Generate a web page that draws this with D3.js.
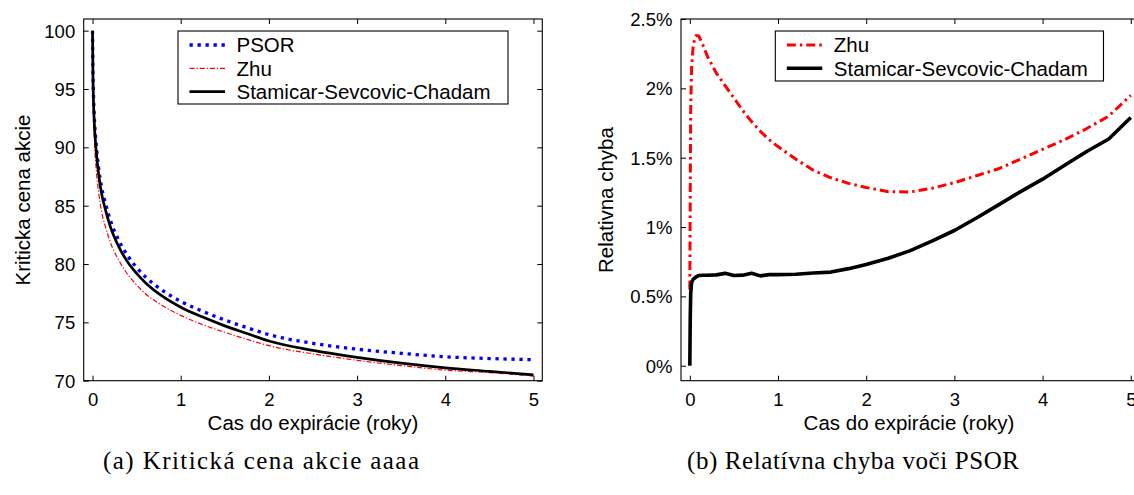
<!DOCTYPE html>
<html>
<head>
<meta charset="utf-8">
<script src="https://cdn.jsdelivr.net/npm/d3@7"></script>
<style>
  body { margin: 0; background: #fff; }
  svg { display: block; }
  text { font-family: "Liberation Sans", Arial, sans-serif; fill: #000; }
</style>
</head>
<body>
<svg width="1134" height="495"></svg>
<script>
// left panel: critical stock price vs time to expiry
var timeYears = [0, 0.005, 0.01, 0.02, 0.04, 0.07, 0.1, 0.15, 0.2, 0.3, 0.4, 0.5, 0.6, 0.8,
  1, 1.25, 1.5, 1.75, 2, 2.5, 3, 3.5, 4, 4.5, 5];
var psorPrice = [100, 96.4, 94.7, 92.7, 90.4, 88.2, 86.7, 85.1, 83.8, 82.0, 80.7, 79.7, 78.9, 77.7,
  76.8, 75.95, 75.2, 74.55, 73.95, 73.2, 72.7, 72.35, 72.05, 71.9, 71.8];
var zhuPrice = [100, 95.2, 93.2, 90.8, 88.3, 86.1, 84.6, 83.1, 81.9, 80.3, 79.1, 78.2, 77.45, 76.4,
  75.6, 74.8, 74.15, 73.55, 73.0, 72.3, 71.75, 71.3, 70.9, 70.7, 70.4];
var sscPrice = [100, 96.1, 94.2, 92.15, 89.85, 87.65, 86.15, 84.55, 83.25, 81.45, 80.15, 79.2, 78.4, 77.2,
  76.3, 75.45, 74.7, 74.05, 73.4, 72.6, 72.0, 71.5, 71.1, 70.8, 70.5];

// right panel: relative error against PSOR (in %)
var errTime = [0, 0.005, 0.01, 0.02, 0.04, 0.07, 0.1, 0.15, 0.2, 0.3, 0.4, 0.5, 0.6, 0.7, 0.8, 0.9,
  1, 1.2, 1.4, 1.6, 1.8, 2, 2.25, 2.5, 2.75, 3, 3.25, 3.5, 3.75, 4, 4.25, 4.5, 4.75, 5];
var zhuError = [0.55, 1.3, 1.85, 2.15, 2.32, 2.38, 2.38, 2.31, 2.23, 2.11, 2.02, 1.93, 1.84, 1.76, 1.69, 1.63,
  1.58, 1.49, 1.41, 1.355, 1.315, 1.285, 1.255, 1.253, 1.28, 1.32, 1.37, 1.42, 1.49, 1.56, 1.63, 1.71, 1.80, 1.95];
var sscError = [0, 0.35, 0.52, 0.6, 0.625, 0.64, 0.65, 0.652, 0.652, 0.655, 0.666, 0.65, 0.653, 0.667, 0.648, 0.657,
  0.657, 0.66, 0.668, 0.675, 0.70, 0.73, 0.775, 0.83, 0.9, 0.975, 1.065, 1.16, 1.255, 1.345, 1.445, 1.545, 1.635, 1.79];

var timeTicks = [0, 1, 2, 3, 4, 5];
var priceTicks = [70, 75, 80, 85, 90, 95, 100];
var errorTicks = [0, 0.5, 1, 1.5, 2, 2.5];

var svg = d3.select('svg');
svg.append('rect').attr('width', 1134).attr('height', 495).attr('fill', '#fff');

function drawFrame(x, y, yTicks, yFormat) {
  var x0 = x.range()[0], x1 = x.range()[1];
  var y0 = y.range()[0], y1 = y.range()[1];
  var g = svg.append('g');

  var bottom = g.append('g').attr('transform', 'translate(0,' + y0 + ')')
    .call(d3.axisBottom(x).tickValues(timeTicks).tickFormat(d3.format('d'))
      .tickSizeInner(-5).tickSizeOuter(0));
  bottom.selectAll('text').attr('y', 25).attr('dy', null).style('font-size', '18.5px');

  var left = g.append('g').attr('transform', 'translate(' + x0 + ',0)')
    .call(d3.axisLeft(y).tickValues(yTicks).tickFormat(yFormat).tickSizeInner(-5).tickSizeOuter(0));
  left.selectAll('text').attr('x', -8.5).attr('dy', null).attr('y', 6.6).style('font-size', '18.5px');

  g.append('g').attr('transform', 'translate(0,' + y1 + ')')
    .call(d3.axisTop(x).tickValues(timeTicks).tickFormat('').tickSizeInner(-5).tickSizeOuter(0));
  g.append('g').attr('transform', 'translate(' + x1 + ',0)')
    .call(d3.axisRight(y).tickValues(yTicks).tickFormat('').tickSizeInner(-5).tickSizeOuter(0));

  g.selectAll('.domain').remove();
  g.selectAll('.tick line').attr('stroke', '#000');

  g.append('rect')
    .attr('x', x0).attr('y', y1)
    .attr('width', x1 - x0).attr('height', y0 - y1)
    .attr('fill', 'none').attr('stroke', '#000').attr('stroke-width', 1.1);
  return g;
}

function drawLegend(box, items) {
  var g = svg.append('g');
  g.append('rect')
    .attr('x', box.x).attr('y', box.y).attr('width', box.w).attr('height', box.h)
    .attr('fill', '#fff').attr('stroke', '#000').attr('stroke-width', 1.1);
  items.forEach(function(d, i) {
    var cy = box.y + 14 + i * 23.3;
    g.append('line')
      .attr('x1', box.x + 11.5).attr('x2', box.x + 47)
      .attr('y1', cy).attr('y2', cy)
      .attr('stroke', d.color).attr('stroke-width', d.width)
      .attr('stroke-dasharray', d.dash);
    g.append('text')
      .attr('x', box.x + 58.5).attr('y', cy + 7.3)
      .style('font-size', '20.5px')
      .text(d.name);
  });
}

// ---- left chart ----
var xL = d3.scaleLinear().domain([-0.1, 5.1]).range([83.7, 542.3]);
var yL = d3.scaleLinear().domain([70, 101]).range([380.7, 19]);
drawFrame(xL, yL, priceTicks, d3.format('d'));

var styleL = [
  { name: 'PSOR', values: psorPrice, color: '#0000ff', width: 3.3, dash: '3.3,4.7' },
  { name: 'Zhu', values: zhuPrice, color: '#ff0000', width: 1.2, dash: '5,2,1.2,2' },
  { name: 'Stamicar-Sevcovic-Chadam', values: sscPrice, color: '#000', width: 2.7, dash: null }
];

var lineL = d3.line()
  .x(function(d) { return xL(d[0]); })
  .y(function(d) { return yL(d[1]); })
  .curve(d3.curveMonotoneX);

styleL.forEach(function(s) {
  svg.append('path')
    .attr('d', lineL(d3.zip(timeYears, s.values)))
    .attr('fill', 'none')
    .attr('stroke', s.color)
    .attr('stroke-width', s.width)
    .attr('stroke-dasharray', s.dash);
});

drawLegend({ x: 178, y: 31, w: 330, h: 73 }, styleL);

svg.append('text')
  .attr('x', 313).attr('y', 430)
  .attr('text-anchor', 'middle').style('font-size', '20.5px')
  .text('Cas do expirácie (roky)');
svg.append('text')
  .attr('transform', 'translate(30.4,200) rotate(-90)')
  .attr('text-anchor', 'middle').style('font-size', '20.5px')
  .text('Kriticka cena akcie');

// ---- right chart ----
var xR = d3.scaleLinear().domain([-0.1, 5.1]).range([681, 1139.6]);
var yR = d3.scaleLinear().domain([-0.108, 2.5]).range([380.7, 19]);
drawFrame(xR, yR, errorTicks, function(d) { return d + '%'; });

var styleR = [
  { name: 'Zhu', values: zhuError, color: '#ff0000', width: 3, dash: '9,4,2.5,4' },
  { name: 'Stamicar-Sevcovic-Chadam', values: sscError, color: '#000', width: 3.6, dash: null }
];

var lineR = d3.line()
  .x(function(d) { return xR(d[0]); })
  .y(function(d) { return yR(d[1]); });

styleR.forEach(function(s) {
  svg.append('path')
    .attr('d', lineR(d3.zip(errTime, s.values)))
    .attr('fill', 'none')
    .attr('stroke', s.color)
    .attr('stroke-width', s.width)
    .attr('stroke-linejoin', 'round')
    .attr('stroke-dasharray', s.dash);
});

drawLegend({ x: 775.3, y: 31, w: 328.2, h: 50 }, styleR);

svg.append('text')
  .attr('x', 909).attr('y', 430)
  .attr('text-anchor', 'middle').style('font-size', '20.5px')
  .text('Cas do expirácie (roky)');
svg.append('text')
  .attr('transform', 'translate(613.4,200) rotate(-90)')
  .attr('text-anchor', 'middle').style('font-size', '20.5px')
  .text('Relativna chyba');

// ---- captions ----
var captions = [
  { x: 261, len: 316, text: '(a) Kritická cena akcie aaaa' },
  { x: 853, len: 332, text: '(b) Relatívna chyba voči PSOR' }
];
captions.forEach(function(c) {
  svg.append('text')
    .attr('x', c.x).attr('y', 469)
    .attr('text-anchor', 'middle')
    .attr('textLength', c.len)
    .attr('lengthAdjust', 'spacing')
    .style('font-family', '"Liberation Serif", "DejaVu Serif", serif')
    .style('font-size', '25px')
    .text(c.text);
});
</script>
</body>
</html>
